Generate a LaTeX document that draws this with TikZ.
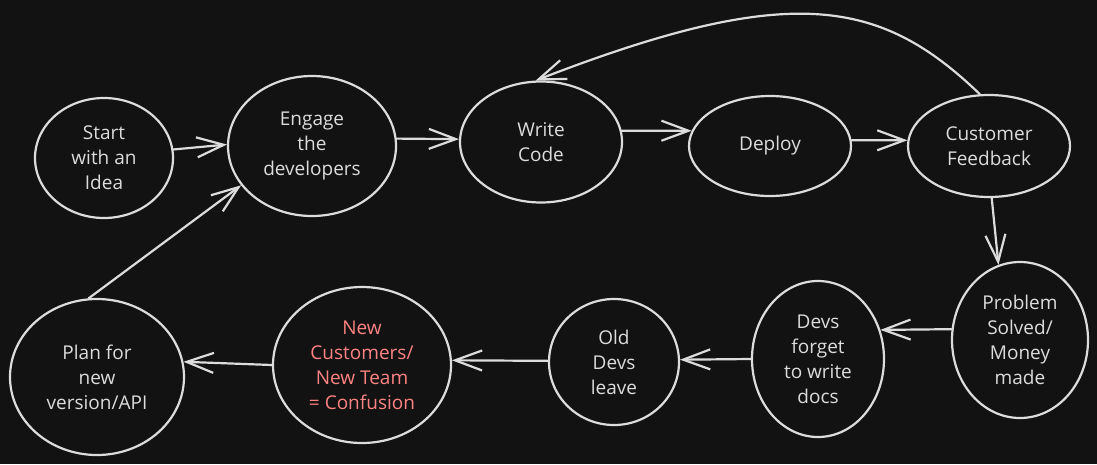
\documentclass[tikz,border=0pt]{standalone}
\usepackage{fontspec}
\setmainfont{Open Sans}
\usetikzlibrary{arrows.meta,shapes.geometric}
\definecolor{bg}{HTML}{121212}
\definecolor{ink}{HTML}{DCDCDC}
\definecolor{warn}{HTML}{FF8383}
\begin{document}
\begin{tikzpicture}[x=1pt,y=-1pt,
  bubble/.style={ellipse, draw=ink, line width=2.2pt, inner sep=0pt, text=ink, align=center, font=\fontsize{19}{25}\selectfont},
  flow/.style={draw=ink, line width=2.2pt, line cap=round, -{Straight Barb[length=27pt,width=20pt,line width=2.2pt]}}]
\fill[bg] (0,0) rectangle (1097,464);
\useasboundingbox (0,0) rectangle (1097,464);
\node[bubble, minimum width=138pt, minimum height=120pt] (start) at (104,158) {Start\\with an\\Idea};
\node[bubble, minimum width=168pt, minimum height=140pt] (engage) at (312,146) {Engage\\the\\developers};
\node[bubble, minimum width=162pt, minimum height=121pt] (write) at (541,142) {Write\\Code};
\node[bubble, minimum width=162pt, minimum height=100pt] (deploy) at (770,146) {Deploy};
\node[bubble, minimum width=162pt, minimum height=102pt] (cf) at (989,146) {Customer\\Feedback};
\node[bubble, minimum width=136pt, minimum height=156pt] (prob) at (1020,340) {Problem\\Solved/\\Money\\made};
\node[bubble, minimum width=132pt, minimum height=156pt] (docs) at (818,359) {Devs\\forget\\to write\\docs};
\node[bubble, minimum width=130pt, minimum height=126pt] (old) at (614,362) {Old\\Devs\\leave};
\node[bubble, minimum width=178pt, minimum height=156pt, text=warn] (newc) at (362,365) {New\\Customers/\\New Team\\= Confusion};
\node[bubble, minimum width=174pt, minimum height=156pt] (plan) at (97,377) {Plan for\\new\\version/API};
\draw[flow] (start.7) -- (engage.179);
\draw[flow] (engage.5) -- (write.178);
\draw[flow] (write.8) -- (deploy.169);
\draw[flow] (deploy.4) -- (cf.176);
\draw[flow] (cf.100) .. controls (880,-2) and (790,-18) .. (write.95);
\draw[flow] (cf.273) -- (prob.106);
\draw[flow] (prob.171) -- (docs.25);
\draw[flow] (docs.180) -- (old.2);
\draw[flow] (old.179) -- (newc.3);
\draw[flow] (newc.180) -- (plan.10);
\draw[flow] (plan.96) -- (engage.209);
\end{tikzpicture}
\end{document}
